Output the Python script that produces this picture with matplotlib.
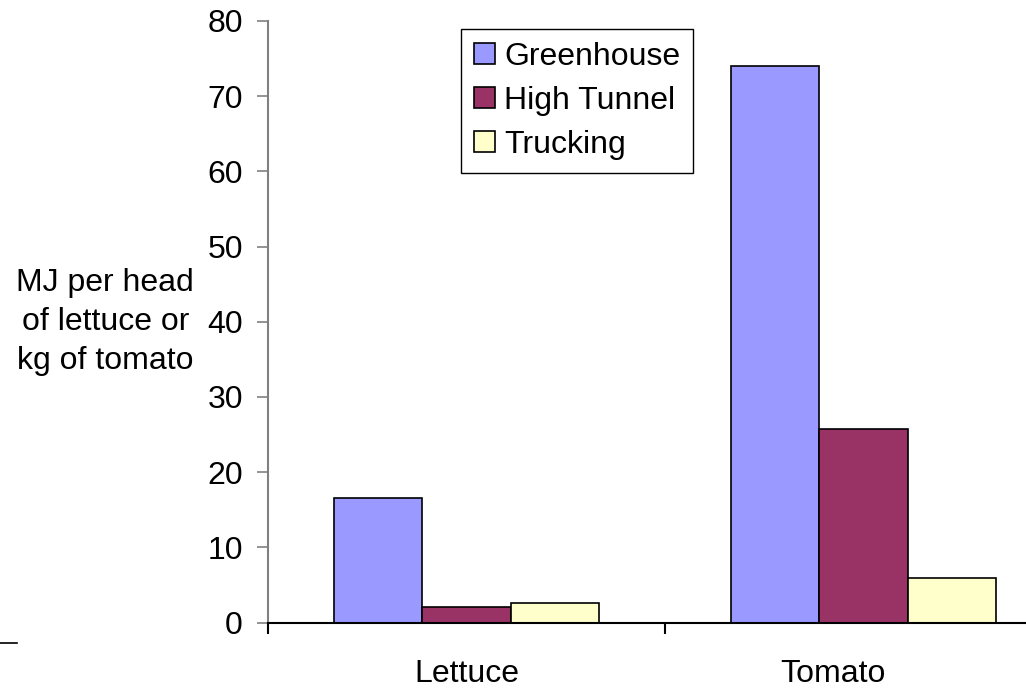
import numpy as np
import matplotlib
matplotlib.use("Agg")
import matplotlib.pyplot as plt
import matplotlib.transforms as mtransforms
from matplotlib.lines import Line2D

plt.rcParams["font.family"] = ["Liberation Sans", "DejaVu Sans"]

crops = ["Lettuce", "Tomato"]
series = ["Greenhouse", "High Tunnel", "Trucking"]
greenhouse = [16.6, 74.0]
high_tunnel = [2.1, 25.7]
trucking = [2.6, 5.9]
colors = ["#9999FF", "#993366", "#FFFFCC"]

FS = 23

fig = plt.figure(figsize=(10.26, 6.91), dpi=100, facecolor="white")
ax = fig.add_axes([268 / 1026, 1 - 622.5 / 691, (1062 - 268) / 1026, 601.5 / 691])

x = np.arange(len(crops))
w = 1 / 4.5  # gap width of 150 %
for i, (vals, name, col) in enumerate(zip([greenhouse, high_tunnel, trucking], series, colors)):
    ax.bar(x + (i - 1) * w, vals, w, color=col, edgecolor="black", linewidth=1.2,
           label=name, zorder=3)

ax.set_xlim(-0.5, len(crops) - 0.5)
ax.set_ylim(0, 80)
ax.set_yticks(np.arange(0, 81, 10))
ax.tick_params(axis="y", direction="out", length=8, width=1.2, color="#808080",
               labelsize=FS, pad=10)

# category boundaries as major ticks, names as minor ticks
ax.set_xticks(np.arange(-0.5, len(crops), 1.0))
ax.set_xticklabels([])
ax.set_xticks(x, minor=True)
ax.set_xticklabels(crops, minor=True)
ax.tick_params(axis="x", which="major", direction="out", length=8, width=1.5, color="black")
ax.tick_params(axis="x", which="minor", length=0, labelsize=FS, pad=26)
# the last label sits left of its group centre
lbl = ax.get_xticklabels(minor=True)[1]
lbl.set_transform(lbl.get_transform() + mtransforms.ScaledTranslation(-31 / 100, 0, fig.dpi_scale_trans))

for s in ["top", "right"]:
    ax.spines[s].set_visible(False)
ax.spines["left"].set_color("#808080")
ax.spines["left"].set_linewidth(1.5)
ax.spines["bottom"].set_color("black")
ax.spines["bottom"].set_linewidth(1.5)
ax.spines["bottom"].set_zorder(4)

ax.set_ylabel("MJ per head\nof lettuce or\nkg of tomato", rotation=0, fontsize=FS,
              ha="center", va="center", multialignment="center", linespacing=1.4)
ax.yaxis.set_label_coords(-0.205, 0.5)

leg = ax.legend(loc="upper left", bbox_to_anchor=(461 / 1026, 1 - 29 / 691),
                bbox_transform=fig.transFigure, borderaxespad=0, fontsize=FS,
                frameon=True, fancybox=False, framealpha=1, edgecolor="black",
                handlelength=0.66, handleheight=0.66, handletextpad=0.3,
                labelspacing=0.44, borderpad=0.4)
leg.get_frame().set_linewidth(1.0)

fig.add_artist(Line2D([0, 17 / 1026], [1 - 643 / 691] * 2, color="black", lw=1.2))

fig.savefig("out.png", dpi=100, facecolor="white")
